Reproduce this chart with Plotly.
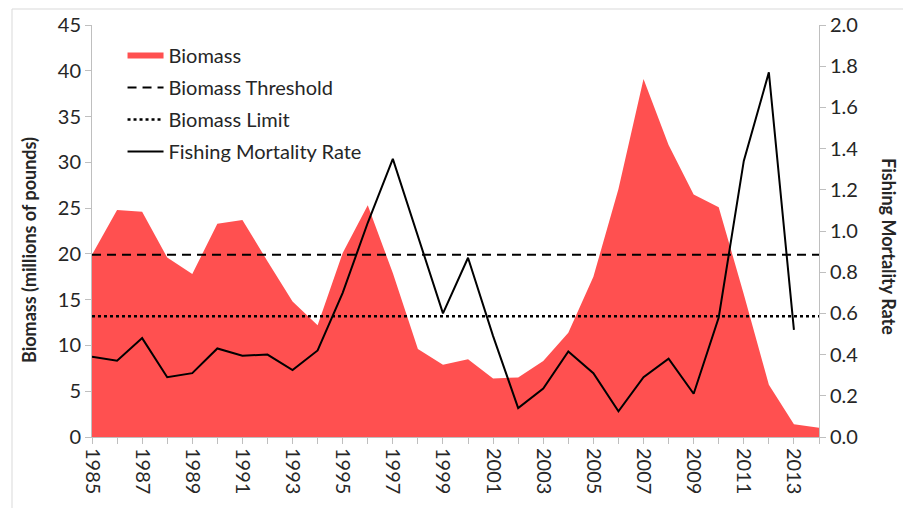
import plotly.graph_objects as go

years = list(range(1985, 2015))
biomass = [19.9, 24.8, 24.6, 19.6, 17.8, 23.3, 23.7, 19.2, 14.8, 12.2,
           20.1, 25.3, 17.9, 9.6, 7.9, 8.5, 6.4, 6.5, 8.3, 11.4,
           17.5, 27.1, 39.1, 31.9, 26.5, 25.1, 15.6, 5.7, 1.4, 1.0]
fishing_mortality = [0.39, 0.37, 0.48, 0.29, 0.31, 0.43, 0.395, 0.40, 0.325, 0.42,
                     0.70, 1.04, 1.35, 0.97, 0.60, 0.87, 0.49, 0.14, 0.235, 0.415,
                     0.31, 0.125, 0.29, 0.38, 0.21, 0.58, 1.34, 1.77, 0.52, None]
biomass_threshold = 19.9
biomass_limit = 13.2

font = "Lato, Open Sans, sans-serif"
grey = "#BFBFBF"

fig = go.Figure()
fig.add_trace(go.Scatter(x=years, y=biomass, name="Biomass", mode="none",
                         fill="tozeroy", fillcolor="#FF5050", legendgroup="a"))
fig.add_trace(go.Scatter(x=[years[0], years[-1]], y=[biomass_threshold] * 2,
                         name="Biomass Threshold", mode="lines", legendgroup="b",
                         line=dict(color="black", width=2, dash="9px,6px")))
fig.add_trace(go.Scatter(x=[years[0], years[-1]], y=[biomass_limit] * 2,
                         name="Biomass Limit", mode="lines", legendgroup="c",
                         line=dict(color="black", width=2.5, dash="dot")))
fig.add_trace(go.Scatter(x=years, y=fishing_mortality, name="Fishing Mortality Rate",
                         mode="lines", yaxis="y2", connectgaps=False, legendgroup="d",
                         line=dict(color="black", width=2)))

# page body adds an 8px offset, so margins are shifted to compensate
fig.update_layout(
    width=911, height=508,
    margin=dict(l=84, r=100, t=17, b=79),
    paper_bgcolor="white", plot_bgcolor="white",
    font=dict(family=font, size=20, color="#262626"),
    showlegend=True,
    legend=dict(x=0.042, y=0.973, xanchor="left", yanchor="top",
                bgcolor="rgba(0,0,0,0)", itemwidth=36, tracegroupgap=3,
                font=dict(size=20, color="#262626")),
    xaxis=dict(range=[1985, 2014], tick0=1985, dtick=2, tickangle=90,
               automargin=False,
               showgrid=False, zeroline=False, showline=True, linecolor=grey,
               ticks="outside", ticklen=6, tickcolor=grey,
               minor=dict(dtick=1, tick0=1985, ticks="outside", ticklen=6,
                          tickcolor=grey, showgrid=False),
               tickfont=dict(size=20)),
    yaxis=dict(range=[0, 45], dtick=5, showgrid=False, zeroline=False,
               automargin=False,
               showline=True, linecolor=grey, ticks="outside", ticklen=6,
               tickcolor=grey, tickfont=dict(size=20)),
    yaxis2=dict(range=[0, 2.0], dtick=0.2, tickformat=".1f", overlaying="y",
                automargin=False,
                side="right", showgrid=False, zeroline=False, showline=True,
                linecolor=grey, ticks="outside", ticklen=6, tickcolor=grey,
                tickfont=dict(size=20)),
    annotations=[
        dict(text="<b>Biomass (millions of pounds)</b>", textangle=-90,
             xref="paper", yref="paper", x=(29 - 92) / 727, y=(437 - 250) / 412,
             xanchor="center", yanchor="middle",
             showarrow=False, font=dict(size=18, color="#262626")),
        dict(text="<b>Fishing Mortality Rate</b>", textangle=90,
             xref="paper", yref="paper", x=(889 - 92) / 727, y=(437 - 246) / 412,
             xanchor="center", yanchor="middle",
             showarrow=False, font=dict(size=18, color="#262626")),
    ],
    shapes=[dict(type="rect", xref="paper", yref="paper",
                 x0=(12 - 92) / 727, x1=(906 - 92) / 727,
                 y0=(437 - 520) / 412, y1=(437 - 9) / 412,
                 line=dict(color="#D9D9D9", width=1))],
)

fig.write_html("out.html")
